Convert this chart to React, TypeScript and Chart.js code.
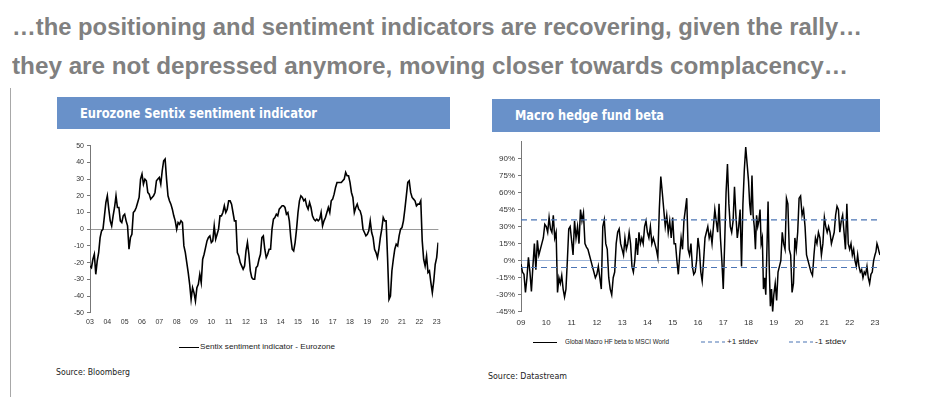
import React, { useEffect, useLayoutEffect, useRef } from "react";
import { Chart, registerables } from "chart.js";

Chart.register(...registerables);

// ---------- Text ----------
const titleLine1 = "…the positioning and sentiment indicators are recovering, given the rally…";
const titleLine2 = "they are not depressed anymore, moving closer towards complacency…";
const leftHeader = "Eurozone Sentix sentiment indicator";
const rightHeader = "Macro hedge fund beta";
const leftLegend = "Sentix sentiment indicator - Eurozone";
const rightLegendMain = "Global Macro HF beta to MSCI World";
const rightLegendPlus = "+1 stdev";
const rightLegendMinus = "-1 stdev";
const leftSource = "Source:  Bloomberg";
const rightSource = "Source:  Datastream";

// ---------- Sentix (monthly, Jan..Dec) ----------
const sentixStartYear = 2003;
const sentix2003 = [-22, -23, -18, -15, -27, -19, -14, -5, -1, 0, 8, 16];
const sentix2004 = [20, 12, 5, 2, 8, 13, 20, 13, 13, 5, 4, 8];
const sentix2005 = [9, 5, 2, -12, -5, -3, 10, 11, 13, 16, 19, 30];
const sentix2006 = [33, 27, 30, 29, 22, 21, 18, 19, 20, 22, 29, 30];
const sentix2007 = [31, 27, 35, 41, 42, 30, 20, 17, 15, 12, 8, 5];
const sentix2008 = [0, 4, 3, 5, 4, -10, -14, -20, -26, -33, -42, -35];
const sentix2009 = [-38, -43, -35, -33, -27, -32, -18, -15, -11, -7, -5, -4];
const sentix2010 = [-8, -7, 2, -6, -3, 0, 8, 8, 10, 14, 10, 12];
const sentix2011 = [17, 17, 15, 10, 5, 5, -14, -16, -20, -22, -24, -22];
const sentix2012 = [-13, -8, -15, -25, -29, -30, -30, -23, -22, -18, -15, -5];
const sentix2013 = [-4, -12, -17, -15, -12, -12, 0, 6, 7, 9, 8, 12];
const sentix2014 = [13, 14, 14, 13, 9, 10, 5, -5, -12, -13, -8, 0];
const sentix2015 = [10, 17, 20, 19, 17, 18, 14, 12, 16, 13, 8, 6];
const sentix2016 = [5, 6, 5, 6, 10, 2, 5, 7, 10, 13, 10, 17];
const sentix2017 = [18, 21, 25, 28, 28, 28, 28, 29, 30, 34, 32, 32];
const sentix2018 = [28, 22, 19, 10, 13, 15, 12, 11, 8, 0, -2, -4];
const sentix2019 = [-3, -1, 5, -2, -5, -12, -14, -17, -12, -5, 0, 7];
const sentix2020 = [5, 5, -17, -42, -40, -25, -18, -12, -9, -10, -4, 0];
const sentix2021 = [1, 5, 12, 20, 28, 29, 22, 19, 18, 17, 14, 15];
const sentix2022 = [15, 17, -7, -18, -22, -16, -26, -25, -32, -38, -31, -21];
const sentix2023 = [-17, -8];
const sentixByYear = [
  sentix2003, sentix2004, sentix2005, sentix2006, sentix2007, sentix2008, sentix2009,
  sentix2010, sentix2011, sentix2012, sentix2013, sentix2014, sentix2015, sentix2016,
  sentix2017, sentix2018, sentix2019, sentix2020, sentix2021, sentix2022, sentix2023,
];
const sentixYTicks = [-50, -40, -30, -20, -10, 0, 10, 20, 30, 40, 50];
const sentixXMin = 2003;
const sentixXMax = 2023.1;
const sentixYearTicks = [2003, 2004, 2005, 2006, 2007, 2008, 2009, 2010, 2011, 2012, 2013, 2014, 2015, 2016, 2017, 2018, 2019, 2020, 2021, 2022, 2023];

// ---------- Macro HF beta (approx. bi-weekly, in %) ----------
const betaStartYear = 2009;
const beta2009 = [-3, -10, -12, -28, -15, 3, -10, -27, -5, 15, -8, 18, 5, 10, 15, 20, 32];
const beta2010 = [30, 25, 38, 28, 25, 40, 20, 25, -28, -15, -20, -13, -25, -32, -25, 0, 28, 30];
const beta2011 = [18, 5, 35, 20, 30, 15, 45, 35, 42, 15, 12, 10, 5, 0, -5, -10, -15];
const beta2012 = [-12, -5, -15, -25, 30, 36, 15, 10, -15, -25, -30, -15, -10, 15, 25, 28, 15];
const beta2013 = [10, 5, 20, 10, 15, 25, 15, -5, -10, 0, 20, 5, 25, 15, 20, 15, 30, 35];
const beta2014 = [25, 20, 30, 15, 20, 15, 10, 3, 45, 74, 60, 45, 30, 40, 25, 35, 20];
const beta2015 = [38, 15, 15, 0, -12, 5, 20, 10, 35, 45, 55, 10, 5, 15, -5, -12, -10, 0];
const beta2016 = [20, 10, -10, -18, 0, 20, 25, 30, 20, 25, 15, 30, 45, 35, 25, 50, 20, 0];
const beta2017 = [-25, 15, 60, 85, 50, 30, 25, 35, 65, 40, 20, 30, 45, -5, 50, 80, 100, 85];
const beta2018 = [70, 50, 40, 75, 40, 30, 10, 40, 30, 35, 45, 15, 20, -25, -15, -30, 10, 52, -5, -40, -25, -45];
const beta2019 = [-30, -20, -35, -10, -5, 0, 25, 15, 10, 55, 50, 10, 5, -28, -20, 20, 10, 25];
const beta2020 = [55, 57, 40, 45, 30, 5, 0, -5, -10, -13, 5, 20, 15, 25, 20, 5, 15];
const beta2021 = [38, 30, 25, 30, 25, 15, 20, 25, 40, 48, 45, 25, 35, 40, 25, 10, 50, 15];
const beta2022 = [10, 15, 5, 10, 0, -5, 5, -5, -10, -8, -15, -10, -12, -5, -15, -20, -12, -10, 0];
const beta2023 = [5, 8, 15, 12, 8, 5];
const betaByYear = [
  beta2009, beta2010, beta2011, beta2012, beta2013, beta2014, beta2015, beta2016,
  beta2017, beta2018, beta2019, beta2020, beta2021, beta2022, beta2023,
];
const betaLastDate = 2023.2;
const betaPlusStdev = 36;
const betaMinusStdev = -6;
const betaYTicks = [-45, -30, -15, 0, 15, 30, 45, 60, 75, 90];
const betaYMin = -45;
const betaYMax = 105;
const betaXMin = 2009;
const betaXMax = 2023.2;
const betaYearTicks = [2009, 2010, 2011, 2012, 2013, 2014, 2015, 2016, 2017, 2018, 2019, 2020, 2021, 2022, 2023];

// ---------- helpers ----------
const sentixPoints = () => {
  const pts: { x: number; y: number }[] = [];
  sentixByYear.forEach((arr, yi) => {
    arr.forEach((v, m) => pts.push({ x: sentixStartYear + yi + m / 12, y: v }));
  });
  return pts;
};

const betaPoints = () => {
  const pts: { x: number; y: number }[] = [];
  betaByYear.forEach((arr, yi) => {
    const year = betaStartYear + yi;
    const last = yi === betaByYear.length - 1;
    arr.forEach((v, i) => {
      const x = last ? year + (i * (betaLastDate - year)) / (arr.length - 1) : year + i / arr.length;
      pts.push({ x, y: v });
    });
  });
  return pts;
};

const yy = (v: number) => String(Math.round(v) % 100).padStart(2, "0");

const tickFont = { family: "'Liberation Sans', Arial, sans-serif", size: 7 };

function FitText(props: {
  text: string;
  left: number;
  top: number;
  width: number;
  font: string;
  size: number;
  weight?: number | string;
  color: string;
}) {
  const ref = useRef<HTMLSpanElement | null>(null);
  useLayoutEffect(() => {
    const el = ref.current;
    if (!el) return;
    el.style.transform = "none";
    const w = el.getBoundingClientRect().width;
    if (w > 0) el.style.transform = `scaleX(${props.width / w})`;
  });
  return (
    <span
      ref={ref}
      style={{
        position: "absolute",
        left: props.left,
        top: props.top,
        whiteSpace: "nowrap",
        fontFamily: props.font,
        fontSize: props.size,
        fontWeight: props.weight ?? "normal",
        color: props.color,
        lineHeight: 1,
        transformOrigin: "0 0",
        display: "inline-block",
      }}
    >
      {props.text}
    </span>
  );
}

function SentixChart() {
  const ref = useRef<HTMLCanvasElement | null>(null);
  useEffect(() => {
    if (!ref.current) return;
    const chart = new Chart(ref.current, {
      type: "line",
      data: {
        datasets: [
          {
            data: sentixPoints(),
            borderColor: "#000",
            borderWidth: 1.6,
            pointRadius: 0,
            tension: 0,
          },
        ],
      },
      options: {
        animation: false,
        responsive: false,
        maintainAspectRatio: false,
        layout: { padding: { top: 15.7, right: 11.6, left: 0, bottom: 0 } },
        plugins: { legend: { display: false }, tooltip: { enabled: false } },
        scales: {
          x: {
            type: "linear",
            min: sentixXMin,
            max: sentixXMax,
            afterBuildTicks: (s: any) => {
              s.ticks = sentixYearTicks.map((v) => ({ value: v }));
            },
            ticks: {
              autoSkip: false,
              maxRotation: 0,
              padding: 5,
              font: tickFont,
              color: "#333",
              callback: (v: any) => yy(Number(v)),
            },
            grid: { display: false, drawTicks: false },
            border: { display: false },
            afterFit: (s: any) => {
              s.height = 22.3;
            },
          },
          y: {
            min: -50,
            max: 50,
            afterBuildTicks: (s: any) => {
              s.ticks = sentixYTicks.map((v) => ({ value: v }));
            },
            ticks: {
              padding: 3,
              font: tickFont,
              color: "#333",
              callback: (v: any) => String(v),
            },
            grid: {
              color: (c: any) => (c.tick && c.tick.value === 0 ? "#9a9a9a" : "rgba(0,0,0,0)"),
              tickColor: "#777",
              tickLength: 3,
              lineWidth: 1,
            },
            border: { display: true, color: "#777", width: 1 },
            afterFit: (s: any) => {
              s.width = 50;
            },
          },
        },
      } as any,
    });
    return () => chart.destroy();
  }, []);
  return (
    <canvas
      ref={ref}
      width={410}
      height={205}
      style={{ position: "absolute", left: 40, top: 130, width: 410, height: 205 }}
    />
  );
}

function BetaChart() {
  const ref = useRef<HTMLCanvasElement | null>(null);
  useEffect(() => {
    if (!ref.current) return;
    const dashColor = "#4a74b4";
    const chart = new Chart(ref.current, {
      type: "line",
      data: {
        datasets: [
          {
            data: [
              { x: betaXMin, y: betaPlusStdev },
              { x: betaXMax, y: betaPlusStdev },
            ],
            borderColor: dashColor,
            borderWidth: 1.2,
            borderDash: [6, 4],
            pointRadius: 0,
          },
          {
            data: [
              { x: betaXMin, y: betaMinusStdev },
              { x: betaXMax, y: betaMinusStdev },
            ],
            borderColor: dashColor,
            borderWidth: 1.2,
            borderDash: [6, 4],
            pointRadius: 0,
          },
          {
            data: betaPoints(),
            borderColor: "#000",
            borderWidth: 1.5,
            pointRadius: 0,
            tension: 0,
          },
        ],
      },
      options: {
        animation: false,
        responsive: false,
        maintainAspectRatio: false,
        layout: { padding: { top: 11.4, right: 10, left: 0, bottom: 0 } },
        plugins: { legend: { display: false }, tooltip: { enabled: false } },
        scales: {
          x: {
            type: "linear",
            min: betaXMin,
            max: betaXMax,
            afterBuildTicks: (s: any) => {
              s.ticks = betaYearTicks.map((v) => ({ value: v }));
            },
            ticks: {
              autoSkip: false,
              maxRotation: 0,
              padding: 6,
              font: { ...tickFont, size: 8 },
              color: "#333",
              callback: (v: any) => yy(Number(v)),
            },
            grid: { display: false, drawTicks: false },
            border: { display: false },
            afterFit: (s: any) => {
              s.height = 23.2;
            },
          },
          y: {
            min: betaYMin,
            max: betaYMax,
            afterBuildTicks: (s: any) => {
              s.ticks = [...betaYTicks, betaYMax].map((v) => ({ value: v }));
            },
            ticks: {
              padding: 3,
              font: { ...tickFont, size: 8 },
              color: "#333",
              callback: (v: any) => (betaYTicks.includes(Number(v)) ? `${v}%` : ""),
            },
            grid: {
              color: (c: any) => (c.tick && c.tick.value === 0 ? "#9fb6d8" : "rgba(0,0,0,0)"),
              tickColor: (c: any) => (c.tick && c.tick.value === betaYMax ? "rgba(0,0,0,0)" : "#777"),
              tickLength: 3,
              lineWidth: 1,
            },
            border: { display: true, color: "#777", width: 1 },
            afterFit: (s: any) => {
              s.width = 51;
            },
          },
        },
      } as any,
    });
    return () => chart.destroy();
  }, []);
  return (
    <canvas
      ref={ref}
      width={420}
      height={205}
      style={{ position: "absolute", left: 470, top: 130, width: 420, height: 205 }}
    />
  );
}

export default function App() {
  const arial = "'Liberation Sans', Arial, sans-serif";
  const tahoma = "'DejaVu Sans', Tahoma, sans-serif";
  const headerBlue = "#6991c9";
  return (
    <div
      style={{
        position: "absolute",
        left: 0,
        top: 0,
        width: 925,
        height: 397,
        background: "#fff",
        overflow: "hidden",
      }}
    >
      <FitText text={titleLine1} left={12} top={16} width={850} font={arial} size={23} weight={700} color="#808080" />
      <FitText text={titleLine2} left={12} top={55} width={836} font={arial} size={23} weight={700} color="#808080" />

      <div style={{ position: "absolute", left: 10, top: 88, width: 1, height: 309, background: "#a8a8a8" }} />

      <div style={{ position: "absolute", left: 57, top: 97, width: 393, height: 32, background: headerBlue }} />
      <FitText text={leftHeader} left={80} top={107} width={237} font={tahoma} size={13.5} weight={700} color="#fff" />

      <div style={{ position: "absolute", left: 492, top: 99, width: 388, height: 33, background: headerBlue }} />
      <FitText text={rightHeader} left={515} top={109} width={149} font={tahoma} size={13.5} weight={700} color="#fff" />

      <SentixChart />
      <BetaChart />

      {/* left legend */}
      <div style={{ position: "absolute", left: 179, top: 347, width: 20, height: 1.3, background: "#000" }} />
      <FitText text={leftLegend} left={200} top={343} width={135} font={arial} size={8} color="#222" />

      {/* right legend */}
      <div style={{ position: "absolute", left: 533, top: 342, width: 24, height: 1.3, background: "#000" }} />
      <FitText text={rightLegendMain} left={565} top={338} width={104} font={arial} size={7.5} color="#222" />
      <svg style={{ position: "absolute", left: 701, top: 340, width: 26, height: 4 }}>
        <line x1={0} y1={2} x2={24} y2={2} stroke="#4a74b4" strokeWidth={1.2} strokeDasharray="4 3" />
      </svg>
      <FitText text={rightLegendPlus} left={727} top={338} width={31} font={arial} size={7.5} color="#222" />
      <svg style={{ position: "absolute", left: 789, top: 340, width: 26, height: 4 }}>
        <line x1={0} y1={2} x2={24} y2={2} stroke="#4a74b4" strokeWidth={1.2} strokeDasharray="4 3" />
      </svg>
      <FitText text={rightLegendMinus} left={815} top={338} width={31} font={arial} size={7.5} color="#222" />

      <FitText text={leftSource} left={56} top={369} width={74} font={tahoma} size={8} color="#222" />
      <FitText text={rightSource} left={488} top={373} width={79} font={tahoma} size={8} color="#222" />
    </div>
  );
}
